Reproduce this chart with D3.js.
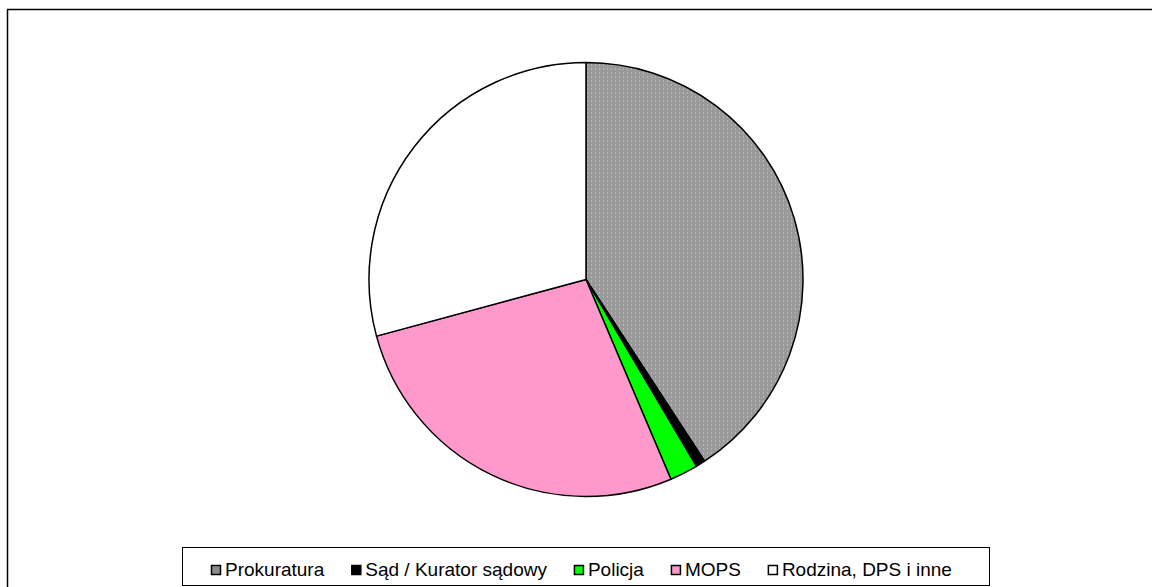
<!DOCTYPE html>
<html>
<head>
<meta charset="utf-8">
<script src="https://cdn.jsdelivr.net/npm/d3@7"></script>
<style>
    body { margin: 0; background: #fff; }
    svg { display: block; }
</style>
</head>
<body>
<div id="chart"></div>
<script>
    // dane wykresu (udzial procentowy)
    var categories = ["Prokuratura", "Sąd / Kurator sądowy", "Policja", "MOPS", "Rodzina, DPS i inne"];
    var values = [40.8, 0.7, 2.1, 27.2, 29.2];
    var colors = ["url(#dots)", "#000000", "#00ff00", "#ff99cc", "#ffffff"];
    var legendColors = ["#8c8c8c", "#000000", "#00ff00", "#ff99cc", "#ffffff"];

    var width = 1152, height = 587;
    var cx = 586, cy = 279.5, radius = 217;

    var svg = d3.select("#chart").append("svg")
        .attr("width", width)
        .attr("height", height);

    // wzor kropkowany dla prokuratury
    var defs = svg.append("defs");
    var pat = defs.append("pattern")
        .attr("id", "dots")
        .attr("patternUnits", "userSpaceOnUse")
        .attr("width", 4)
        .attr("height", 4);
    pat.append("rect").attr("width", 4).attr("height", 4).attr("fill", "#999999");
    pat.append("rect").attr("x", 1).attr("y", 1).attr("width", 1).attr("height", 1).attr("fill", "#d4d4d4");

    // ramka
    svg.append("rect")
        .attr("x", 7.5).attr("y", 9.5)
        .attr("width", width).attr("height", height)
        .attr("fill", "none")
        .attr("stroke", "#000")
        .attr("stroke-width", 1.5);

    var pie = d3.pie().sort(null).value(function (d) { return d; });
    var arc = d3.arc().innerRadius(0).outerRadius(radius);

    var g = svg.append("g").attr("transform", "translate(" + cx + "," + cy + ")");
    g.selectAll("path")
        .data(pie(values))
        .enter().append("path")
        .attr("d", arc)
        .attr("fill", function (d, i) { return colors[i]; })
        .attr("stroke", "#000")
        .attr("stroke-width", 1.5)
        .attr("stroke-linejoin", "round");

    // legenda
    var lg = svg.append("g");
    lg.append("rect")
        .attr("x", 182.5).attr("y", 547.5)
        .attr("width", 807).attr("height", 38)
        .attr("fill", "#fff")
        .attr("stroke", "#000")
        .attr("stroke-width", 1);

    var item = lg.selectAll("g.item")
        .data(categories)
        .enter().append("g")
        .attr("class", "item");
    item.append("rect")
        .attr("x", 0.5).attr("y", 565.5)
        .attr("width", 9).attr("height", 9)
        .attr("fill", function (d, i) { return legendColors[i]; })
        .attr("stroke", "#000")
        .attr("stroke-width", 1.5);
    item.append("text")
        .attr("x", 14).attr("y", 576)
        .attr("font-family", "Liberation Sans, Arial, sans-serif")
        .attr("font-size", "19px")
        .attr("fill", "#000")
        .text(function (d) { return d; });

    // rozmieszczenie elementow legendy po kolei
    var lx = 211;
    item.each(function () {
        var el = d3.select(this);
        el.attr("transform", "translate(" + lx + ",0)");
        lx += 14 + el.select("text").node().getComputedTextLength() + 27;
    });
</script>
</body>
</html>
